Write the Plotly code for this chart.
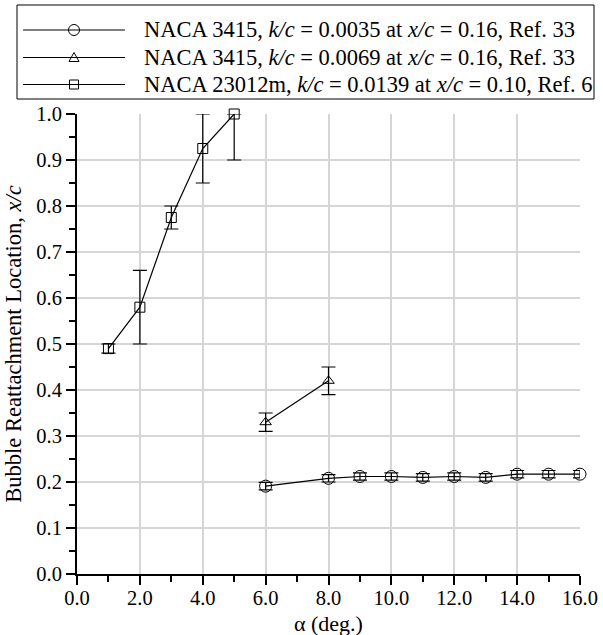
import plotly.graph_objects as go

# Angle of attack (deg.) and reattachment location x/c for each data set
alpha_3415_a = [6, 8, 9, 10, 11, 12, 13, 14, 15, 16]
xc_3415_a = [0.191, 0.208, 0.212, 0.212, 0.210, 0.212, 0.210, 0.217, 0.217, 0.217]
err_3415_a = [0.008, 0.008, 0.008, 0.008, 0.008, 0.008, 0.008, 0.008, 0.008, 0.008]

alpha_3415_b = [6, 8]
xc_3415_b = [0.33, 0.42]
err_3415_b = [0.02, 0.03]

alpha_23012 = [1, 2, 3, 4, 5]
xc_23012 = [0.49, 0.58, 0.775, 0.925, 1.0]
err_up_23012 = [0.01, 0.08, 0.025, 0.075, 0.0]
err_dn_23012 = [0.01, 0.08, 0.025, 0.075, 0.1]

names = [
    "NACA 3415, <i>k/c</i> = 0.0035 at <i>x/c</i> = 0.16, Ref. 33",
    "NACA 3415, <i>k/c</i> = 0.0069 at <i>x/c</i> = 0.16, Ref. 33",
    "NACA 23012m, <i>k/c</i> = 0.0139 at <i>x/c</i> = 0.10, Ref. 6",
]
symbols = ["circle", "triangle", "square"]
x_title = "α (deg.)"
y_title = "Bubble Reattachment Location, <i>x/c</i>"

FONT = "Liberation Serif"
FS_TICK = 20.5
FS_XTITLE = 22
FS_YTITLE = 22.5
FS_KEY = 22.5

# figure size and margins (px)
W, H = 603, 635
ML, MR, MT, MB = 77, 23, 114, 61
PW, PH = W - ML - MR, H - MT - MB


def px(xp):
    """figure pixel x -> paper x"""
    return (xp - ML) / PW


def py(yp):
    """figure pixel y (from top) -> paper y"""
    return (H - MB - yp) / PH


def err(up, dn=None):
    d = dict(type="data", array=up, color="black", thickness=1.2, width=7)
    if dn is not None:
        d.update(symmetric=False, arrayminus=dn)
    return d


fig = go.Figure()
fig.add_trace(go.Scatter(
    x=alpha_3415_a, y=xc_3415_a, name=names[0], mode="lines+markers",
    line=dict(color="black", width=1.2),
    marker=dict(symbol="circle-open", size=12, color="black", line=dict(width=1)),
    error_y=err(err_3415_a), cliponaxis=False, showlegend=False))
fig.add_trace(go.Scatter(
    x=alpha_3415_b, y=xc_3415_b, name=names[1], mode="lines+markers",
    line=dict(color="black", width=1.2),
    marker=dict(symbol="triangle-up-open", size=10, color="black", line=dict(width=1)),
    error_y=err(err_3415_b), cliponaxis=False, showlegend=False))
fig.add_trace(go.Scatter(
    x=alpha_23012, y=xc_23012, name=names[2], mode="lines+markers",
    line=dict(color="black", width=1.2),
    marker=dict(symbol="square-open", size=10, color="black", line=dict(width=1)),
    error_y=err(err_up_23012, err_dn_23012), cliponaxis=False, showlegend=False))

axis_common = dict(
    showline=True, linecolor="black", linewidth=2, mirror=False,
    showgrid=True, gridcolor="#d6d6d6", gridwidth=2,
    ticks="outside", ticklen=9, tickwidth=2, tickcolor="black",
    zeroline=False, tickformat=".1f", automargin=False,
    tickfont=dict(family=FONT, size=FS_TICK, color="black"),
)

fig.update_xaxes(
    range=[0, 16], dtick=2, tick0=0, ticklabelstandoff=-5,
    minor=dict(dtick=1, ticks="outside", ticklen=6, tickwidth=2, tickcolor="black", showgrid=False),
    **axis_common)
fig.update_yaxes(
    range=[0, 1], dtick=0.1, tick0=0,
    minor=dict(dtick=0.05, ticks="outside", ticklen=6, tickwidth=2, tickcolor="black", showgrid=False),
    title=dict(text=y_title, font=dict(family=FONT, size=FS_YTITLE, color="black"), standoff=8),
    **axis_common)

# legend drawn as a framed key above the plot
shapes = [dict(type="rect", xref="paper", yref="paper",
               x0=px(17), x1=px(594), y0=py(5), y1=py(99),
               line=dict(color="black", width=1), fillcolor="rgba(0,0,0,0)")]
annotations = []
rows = [30, 57.5, 84.5]
for name, sym, yr in zip(names, symbols, rows):
    ya = py(yr)
    shapes.append(dict(type="line", xref="paper", yref="paper",
                       x0=px(23), x1=px(125), y0=ya, y1=ya,
                       line=dict(color="black", width=1.2)))
    common = dict(xref="paper", yref="paper", xsizemode="pixel", ysizemode="pixel",
                  xanchor=px(74), yanchor=ya, line=dict(color="black", width=1),
                  fillcolor="rgba(0,0,0,0)")
    if sym == "circle":
        shapes.append(dict(type="circle", x0=-5.5, x1=5.5, y0=-5.5, y1=5.5, **common))
    elif sym == "triangle":
        shapes.append(dict(type="path", path="M-5,-4 L5,-4 L0,5 Z", **common))
    else:
        shapes.append(dict(type="rect", x0=-4.5, x1=4.5, y0=-4.5, y1=4.5, **common))
    annotations.append(dict(
        text=name, xref="paper", yref="paper", x=px(142), y=ya,
        xanchor="left", yanchor="middle", showarrow=False,
        font=dict(family=FONT, size=FS_KEY, color="black")))

# x-axis title sits just under the tick labels, at the bottom of the figure
annotations.append(dict(
    text=x_title, xref="paper", yref="paper", x=0.5, y=py(636.5),
    xanchor="center", yanchor="bottom", showarrow=False, borderpad=0,
    font=dict(family=FONT, size=FS_XTITLE, color="black")))

fig.update_layout(
    width=W, height=H,
    margin=dict(l=ML, r=MR, t=MT, b=MB),
    plot_bgcolor="white", paper_bgcolor="white",
    font=dict(family=FONT, size=FS_TICK, color="black"),
    shapes=shapes, annotations=annotations,
    showlegend=False,
)

fig.write_html("out.html")
